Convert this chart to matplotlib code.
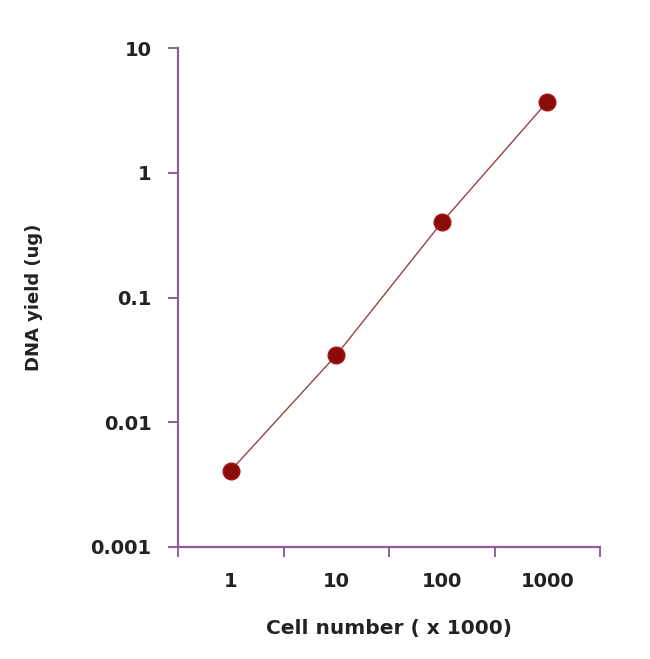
import matplotlib
matplotlib.use("Agg")
import matplotlib.pyplot as plt
from matplotlib.ticker import FixedLocator, NullLocator, FixedFormatter, NullFormatter

# Data
cells = [1, 10, 100, 1000]            # Cell number (x 1000)
dna_yield = [0.0041, 0.0345, 0.40, 3.7]  # DNA yield (ug)
x_labels = ["1", "10", "100", "1000"]
y_ticks = [0.001, 0.01, 0.1, 1, 10]
y_labels = ["0.001", "0.01", "0.1", "1", "10"]

axis_color = "#8d5f98"
line_color = "#8e4646"
marker_color = "#8b0a0a"

fig = plt.figure(figsize=(6.5, 6.59), dpi=100)
ax = fig.add_axes([178 / 650, 112 / 659, 422 / 650, 499 / 659])

ax.plot(cells, dna_yield, color=line_color, linewidth=1.0,
        marker="o", markersize=12, markerfacecolor=marker_color,
        markeredgecolor="#a01818", markeredgewidth=1)

ax.set_xscale("log")
ax.set_yscale("log")
ax.set_xlim(10 ** -0.5, 10 ** 3.5)
ax.set_ylim(0.001, 10)

# x: tick marks between categories, labels centred on the points
ax.xaxis.set_major_locator(FixedLocator([10 ** (k - 0.5) for k in range(5)]))
ax.xaxis.set_major_formatter(NullFormatter())
ax.xaxis.set_minor_locator(FixedLocator(cells))
ax.xaxis.set_minor_formatter(FixedFormatter(x_labels))
ax.yaxis.set_major_locator(FixedLocator(y_ticks))
ax.yaxis.set_major_formatter(FixedFormatter(y_labels))
ax.yaxis.set_minor_locator(NullLocator())

for s in ["top", "right"]:
    ax.spines[s].set_visible(False)
for s in ["left", "bottom"]:
    ax.spines[s].set_color(axis_color)
    ax.spines[s].set_linewidth(1.6)

ax.tick_params(axis="both", which="major", direction="out", length=7,
               width=1.4, color=axis_color, labelsize=14, labelcolor="#222222", pad=12)
ax.tick_params(axis="x", which="minor", length=0, labelsize=14,
               labelcolor="#222222", pad=18)
for lbl in ax.get_yticklabels() + ax.get_xticklabels(minor=True):
    lbl.set_fontweight("bold")

ax.set_xlabel("Cell number ( x 1000)", fontsize=14.5, fontweight="bold",
              color="#222222", labelpad=20)
ax.set_ylabel("DNA yield (ug)", fontsize=13, fontweight="bold",
              color="#222222", labelpad=34)

fig.savefig("out.png", dpi=100)
